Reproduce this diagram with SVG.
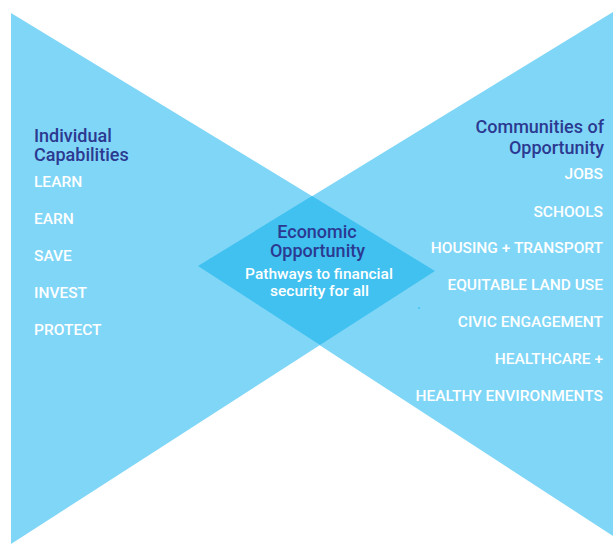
<svg xmlns="http://www.w3.org/2000/svg" width="613" height="544" viewBox="0 0 613 544">
<style>
.light{fill:#80d6f7}
.dark{fill:#40c1f0}
.title{font-family:Roboto,"Liberation Sans",Arial,sans-serif;font-weight:500;font-size:18px;fill:#2b3990}
.item{font-family:Roboto,"Liberation Sans",Arial,sans-serif;font-weight:500;font-size:15.5px;fill:#ffffff}
.sub{font-family:Roboto,"Liberation Sans",Arial,sans-serif;font-weight:500;font-size:15.5px;fill:#ffffff}
</style>
<rect width="613" height="544" fill="#ffffff"/>
<g id="left-triangle">
<polygon class="light" points="11,13 435,271 11,544"/>
</g>
<g id="right-triangle">
<polygon class="light" points="613,12 198,266 613,536"/>
</g>
<g id="overlap">
<polygon class="dark" points="198,266 312,196 435,271 320,345"/>
<circle class="dark" cx="419" cy="308" r="1"/>
</g>
<g id="connectors"></g>
<g id="individual-capabilities">
<text class="title" x="34" y="142">Individual</text>
<text class="title" x="34" y="161">Capabilities</text>
<text class="item" x="34" y="187">LEARN</text>
<text class="item" x="34" y="224">EARN</text>
<text class="item" x="34" y="261">SAVE</text>
<text class="item" x="34" y="298">INVEST</text>
<text class="item" x="34" y="335">PROTECT</text>
</g>
<g id="communities-of-opportunity" text-anchor="end">
<text class="title" x="604" y="133">Communities of</text>
<text class="title" x="604" y="154">Opportunity</text>
<text class="item" x="603" y="179">JOBS</text>
<text class="item" x="603" y="216.5">SCHOOLS</text>
<text class="item" x="603" y="253">HOUSING + TRANSPORT</text>
<text class="item" x="603" y="290">EQUITABLE LAND USE</text>
<text class="item" x="603" y="327">CIVIC ENGAGEMENT</text>
<text class="item" x="603" y="364">HEALTHCARE +</text>
<text class="item" x="603" y="400.5">HEALTHY ENVIRONMENTS</text>
</g>
<g id="economic-opportunity" text-anchor="middle">
<text class="title" x="317" y="238">Economic</text>
<text class="title" x="317.5" y="257">Opportunity</text>
<text class="sub" x="319" y="279">Pathways to financial</text>
<text class="sub" x="319.5" y="296">security for all</text>
</g>
</svg>
